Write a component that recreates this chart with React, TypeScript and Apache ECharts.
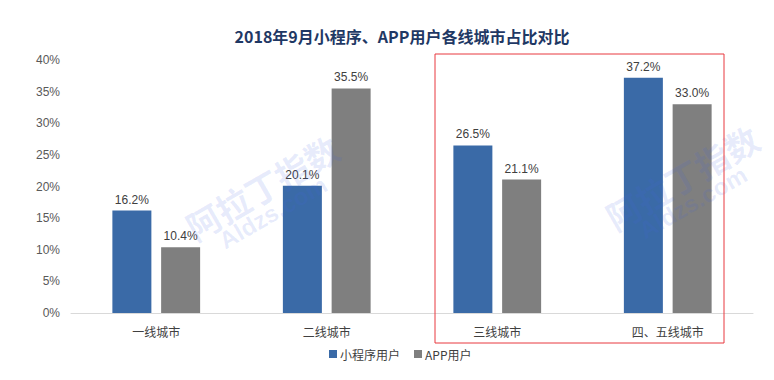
import React, { useEffect, useRef } from "react";
import * as echarts from "echarts";

const categories = ["一线城市", "二线城市", "三线城市", "四、五线城市"];
const miniProgramUsers = [16.2, 20.1, 26.5, 37.2];
const appUsers = [10.4, 35.5, 21.1, 33.0];
const seriesNames = ["小程序用户", "APP用户"];
const titleText = "2018年9月小程序、APP用户各线城市占比对比";

export default function App() {
  const ref = useRef<HTMLDivElement>(null);
  useEffect(() => {
    if (!ref.current) return;
    const chart = echarts.init(ref.current, null, { renderer: "svg" });
    const font = "'Microsoft YaHei', 'Noto Sans CJK SC', 'Liberation Sans', sans-serif";
    const numFont = "'Liberation Sans', Arial, sans-serif";
    const wm = "rgba(70,100,230,0.13)";
    chart.setOption({
      animation: false,
      backgroundColor: "#ffffff",
      title: {
        text: titleText,
        left: 397,
        textAlign: "center",
        top: 23,
        textStyle: { fontSize: 16, fontWeight: "bold", color: "#1F3864", fontFamily: font },
      },
      legend: {
        bottom: 15,
        left: 324,
        itemWidth: 8,
        itemHeight: 8,
        itemGap: 14,
        icon: "rect",
        textStyle: { fontSize: 12, color: "#404040", fontFamily: font, padding: [0, 0, 0, -2] },
        data: seriesNames,
      },
      grid: { left: 71, right: 21, top: 60, bottom: 67, containLabel: false },
      xAxis: {
        type: "category",
        data: categories,
        axisLine: { lineStyle: { color: "#D9D9D9" } },
        axisTick: { show: false },
        axisLabel: { fontSize: 12, color: "#404040", margin: 12, fontFamily: font },
      },
      yAxis: {
        type: "value",
        min: 0,
        max: 40,
        interval: 5,
        splitLine: { show: false },
        axisLine: { show: false },
        axisTick: { show: false },
        axisLabel: { formatter: "{value}%", fontSize: 12, color: "#595959", margin: 11, fontFamily: numFont },
      },
      series: [
        {
          name: seriesNames[0],
          type: "bar",
          data: miniProgramUsers,
          barWidth: 39,
          barGap: "25%",
          itemStyle: { color: "#3A6AA7" },
          label: { show: true, position: "top", formatter: (p: any) => p.value.toFixed(1) + "%", fontSize: 12, color: "#404040", fontFamily: numFont },
        },
        {
          name: seriesNames[1],
          type: "bar",
          data: appUsers,
          barWidth: 39,
          itemStyle: { color: "#7F7F7F" },
          label: { show: true, position: "top", formatter: (p: any) => p.value.toFixed(1) + "%", fontSize: 12, color: "#404040", fontFamily: numFont },
        },
      ],
      graphic: [
        {
          type: "rect",
          shape: { x: 435, y: 54, width: 289, height: 289 },
          style: { fill: "none", stroke: "#E8393F", lineWidth: 1 },
          z: 100,
        },
        {
          type: "text",
          x: 180,
          y: 215,
          rotation: Math.PI / 6,
          style: { text: "阿拉丁指数", fontSize: 34, fontWeight: "bold", fill: wm, fontFamily: font },
          z: 50,
        },
        {
          type: "text",
          x: 215,
          y: 232,
          rotation: Math.PI / 6,
          style: { text: "Aldzs.com", fontSize: 24, fontWeight: "bold", fill: wm, fontFamily: numFont },
          z: 50,
        },
        {
          type: "text",
          x: 600,
          y: 205,
          rotation: Math.PI / 6,
          style: { text: "阿拉丁指数", fontSize: 34, fontWeight: "bold", fill: wm, fontFamily: font },
          z: 50,
        },
        {
          type: "text",
          x: 635,
          y: 222,
          rotation: Math.PI / 6,
          style: { text: "Aldzs.com", fontSize: 24, fontWeight: "bold", fill: wm, fontFamily: numFont },
          z: 50,
        },
      ],
    });
    return () => chart.dispose();
  }, []);
  return <div ref={ref} style={{ width: 774, height: 380, margin: -8 }} />;
}
